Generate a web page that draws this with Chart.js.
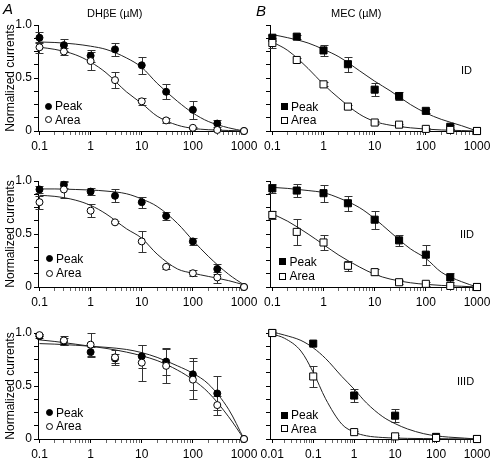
<!DOCTYPE html>
<html lang="en">
<head>
<meta charset="UTF-8">
<title>DHβE and MEC inhibition of ID, IID and IIID currents</title>
<script src="https://cdn.jsdelivr.net/npm/chart.js"></script>
<style>
  body { margin: 0; background: #fff; color: #000; font-family: 'Liberation Sans', Arial, sans-serif; }
  #fig { position: relative; width: 492px; height: 459px; overflow: hidden; background: #fff; }
  #fig canvas { position: absolute; }
  .txt { position: absolute; white-space: nowrap; line-height: 14px; }
  .panel { font-size: 15px; font-style: italic; }
  .drug { font-size: 11px; }
  .cell { font-size: 11px; }
  .leg { font-size: 12px; }
  .mk { position: absolute; box-sizing: border-box; width: 7px; height: 7px; border: 1px solid #000; }
</style>
</head>
<body>
<div id="fig">
  <canvas id="dhbeId" width="262" height="144" style="left:0;top:13px"></canvas>
  <canvas id="mecId" width="242" height="144" style="left:250px;top:13px"></canvas>
  <canvas id="dhbeIid" width="262" height="144" style="left:0;top:169px"></canvas>
  <canvas id="mecIid" width="242" height="144" style="left:250px;top:169px"></canvas>
  <canvas id="dhbeIiid" width="262" height="144" style="left:0;top:321px"></canvas>
  <canvas id="mecIiid" width="242" height="144" style="left:250px;top:321px"></canvas>

  <div class="txt panel" style="left:3px;top:2px">A</div>
  <div class="txt panel" style="left:256px;top:4px">B</div>
  <div class="txt drug" style="left:87px;top:6px">DHβE (µM)</div>
  <div class="txt drug" style="left:331px;top:6px">MEC (µM)</div>
  <div class="txt cell" style="left:461px;top:63px">ID</div>
  <div class="txt cell" style="left:460px;top:227px">IID</div>
  <div class="txt cell" style="left:457px;top:374px">IIID</div>
</div>

<script>
// concentrations in µM
const conc = [0.1, 0.3, 1, 3, 10, 30, 100, 300, 1000]
const concMecIiid = [0.01, 0.1, 1, 10, 100, 1000]
const fitConc = [0.1, 0.2, 0.5, 1, 2, 5, 10, 20, 50, 100, 200, 500, 1000]
const fitConcMecIiid = [0.01, 0.02, 0.05, 0.1, 0.2, 0.5, 1, 2, 5, 10, 20, 50, 100, 200, 500, 1000]

// axis labels
const xTickValues = [0.1, 1, 10, 100, 1000]
const xTickLabels = ['0.1', '1', '10', '100', '1000']
const xTickValuesMecIiid = [0.01, 0.1, 1, 10, 100, 1000]
const xTickLabelsMecIiid = ['0.01', '0.1', '1', '10', '100', '1000']
const yTickValues = [0, 0.5, 1]
const yTickLabels = ['0', '0.5', '1.0']

// DHbE, ID
const dhbeIdPeak = [0.88, 0.81, 0.71, 0.77, 0.62, 0.37, 0.20, 0.07, 0]
const dhbeIdPeakErr = [0.05, 0.055, 0.055, 0.06, 0.08, 0.07, 0.085, 0.035, 0]
const dhbeIdArea = [0.79, 0.75, 0.66, 0.48, 0.28, 0.10, 0.03, 0.01, 0]
const dhbeIdAreaErr = [0.05, 0.03, 0.085, 0.075, 0.03, 0.02, 0.01, 0.01, 0]
const dhbeIdPeakFit = [0.84, 0.835, 0.82, 0.80, 0.77, 0.69, 0.60, 0.45, 0.28, 0.17, 0.09, 0.03, 0]
const dhbeIdAreaFit = [0.79, 0.77, 0.72, 0.65, 0.55, 0.37, 0.26, 0.14, 0.055, 0.025, 0.012, 0.005, 0]

// MEC, ID
const mecIdPeak = [0.88, 0.89, 0.76, 0.63, 0.39, 0.33, 0.19, 0.04, 0]
const mecIdPeakErr = [0.03, 0.02, 0.055, 0.07, 0.06, 0.04, 0.02, 0.02, 0]
const mecIdArea = [0.83, 0.67, 0.44, 0.23, 0.08, 0.06, 0.02, 0.01, 0]
const mecIdAreaErr = [0.05, 0.02, 0.02, 0.02, 0.01, 0.01, 0.01, 0.01, 0]
const mecIdPeakFit = [0.91, 0.88, 0.83, 0.77, 0.70, 0.57, 0.47, 0.38, 0.25, 0.17, 0.11, 0.05, 0]
const mecIdAreaFit = [0.84, 0.76, 0.59, 0.44, 0.31, 0.16, 0.09, 0.055, 0.03, 0.018, 0.01, 0.004, 0]

// DHbE, IID
const dhbeIidPeak = [0.92, 0.965, 0.90, 0.86, 0.80, 0.67, 0.43, 0.17, 0]
const dhbeIidPeakErr = [0.03, 0.03, 0.03, 0.06, 0.05, 0.04, 0.03, 0.05, 0]
const dhbeIidArea = [0.80, 0.92, 0.72, 0.61, 0.43, 0.19, 0.13, 0.09, 0]
const dhbeIidAreaErr = [0.06, 0.08, 0.06, 0.01, 0.10, 0.02, 0.03, 0.05, 0]
const dhbeIidPeakFit = [0.925, 0.925, 0.92, 0.915, 0.905, 0.88, 0.83, 0.76, 0.60, 0.44, 0.29, 0.12, 0.02]
const dhbeIidAreaFit = [0.865, 0.855, 0.82, 0.77, 0.69, 0.55, 0.46, 0.31, 0.17, 0.13, 0.10, 0.06, 0.02]

// MEC, IID
const mecIidPeak = [0.93, 0.91, 0.885, 0.79, 0.635, 0.44, 0.305, 0.09, 0]
const mecIidPeakErr = [0.04, 0.065, 0.08, 0.07, 0.085, 0.05, 0.095, 0.045, 0]
const mecIidArea = [0.68, 0.52, 0.42, 0.20, 0.14, 0.045, 0.03, 0.01, 0]
const mecIidAreaErr = [0.04, 0.12, 0.075, 0.05, 0.03, 0.02, 0.02, 0.01, 0]
const mecIidPeakFit = [0.94, 0.93, 0.91, 0.89, 0.84, 0.75, 0.645, 0.52, 0.36, 0.27, 0.14, 0.05, 0]
const mecIidAreaFit = [0.69, 0.62, 0.50, 0.40, 0.30, 0.19, 0.12, 0.075, 0.04, 0.025, 0.015, 0.007, 0]

// DHbE, IIID
const dhbeIiidPeak = [0.97, 0.92, 0.82, 0.76, 0.78, 0.73, 0.61, 0.43, 0]
const dhbeIiidPeakErr = [0.02, 0.03, 0.05, 0.04, 0.11, 0.13, 0.15, 0.16, 0]
const dhbeIiidArea = [0.98, 0.93, 0.89, 0.77, 0.72, 0.69, 0.56, 0.32, 0]
const dhbeIiidAreaErr = [0.01, 0.04, 0.11, 0.07, 0.17, 0.16, 0.18, 0.09, 0]
const dhbeIiidPeakFit = [0.90, 0.895, 0.885, 0.875, 0.865, 0.845, 0.815, 0.77, 0.69, 0.62, 0.52, 0.28, 0]
const dhbeIiidAreaFit = [0.935, 0.92, 0.895, 0.875, 0.855, 0.82, 0.785, 0.74, 0.65, 0.56, 0.44, 0.21, 0]

// MEC, IIID
const mecIiidPeak = [1.0, 0.90, 0.41, 0.22, 0.02, 0]
const mecIiidPeakErr = [0, 0, 0.06, 0.06, 0.01, 0]
const mecIiidArea = [1.0, 0.59, 0.065, 0.025, 0.01, 0]
const mecIiidAreaErr = [0, 0.095, 0.01, 0.01, 0, 0]
const mecIiidPeakFit = [1.01, 0.98, 0.93, 0.86, 0.76, 0.59, 0.47, 0.34, 0.21, 0.145, 0.095, 0.05, 0.03, 0.018, 0.008, 0]
const mecIiidAreaFit = [0.99, 0.95, 0.83, 0.63, 0.38, 0.14, 0.065, 0.03, 0.014, 0.009, 0.006, 0.004, 0.003, 0.002, 0.001, 0]

Chart.defaults.font.family = "'Liberation Sans', Arial, sans-serif"
Chart.defaults.color = '#000'

// vertical error bars, drawn under the markers
const errorBars = {
    id: 'errorBars',
    beforeDatasetsDraw(chart) {
        let c = chart.ctx, xs = chart.scales.x, ys = chart.scales.y
        c.save()
        c.strokeStyle = '#333'
        c.lineWidth = 1
        chart.data.datasets.forEach(ds => {
            if (!ds.errors) return
            ds.data.forEach((pt, i) => {
                let e = ds.errors[i]
                if (!e) return
                let px = Math.round(xs.getPixelForValue(pt.x)) + 0.5
                let top = Math.round(ys.getPixelForValue(pt.y + e)) + 0.5
                let bot = Math.round(ys.getPixelForValue(pt.y - e)) + 0.5
                c.beginPath()
                c.moveTo(px, top); c.lineTo(px, bot)
                c.moveTo(px - 4, top); c.lineTo(px + 4, top)
                c.moveTo(px - 4, bot); c.lineTo(px + 4, bot)
                c.stroke()
            })
        })
        c.restore()
    }
}

function pts(xs, ys) {
    return xs.map((x, i) => ({x: x, y: ys[i]}))
}

function sameVal(a, b) {
    return Math.abs(a - b) < 1e-9 * Math.max(1, Math.abs(b))
}

// decade + minor tick positions for a log axis
function logTicks(decades) {
    let out = []
    for (let d = 0; d < decades.length - 1; d++) {
        for (let k = 1; k <= 9; k++) out.push({value: decades[d] * k, major: k == 1})
    }
    out.push({value: decades[decades.length - 1], major: true})
    return out
}

function makePanel(id, p) {
    let square = p.shape == 'rect'
    let r = square ? 5 : 3.5
    let fitStyle = {showLine: true, borderColor: '#222', borderWidth: 1, pointRadius: 0, pointHoverRadius: 0,
                    cubicInterpolationMode: 'monotone', clip: false}
    return new Chart(document.getElementById(id), {
        type: 'scatter',
        data: {
            datasets: [
                Object.assign({label: 'Peak fit', data: pts(p.fitX, p.peakFit), order: 4}, fitStyle),
                Object.assign({label: 'Area fit', data: pts(p.fitX, p.areaFit), order: 3}, fitStyle),
                {label: 'Peak', data: pts(p.x, p.peak), errors: p.peakErr, pointStyle: p.shape, pointRadius: r,
                 backgroundColor: '#000', borderColor: '#000', borderWidth: 1, order: 2, clip: false},
                {label: 'Area', data: pts(p.x, p.area), errors: p.areaErr, pointStyle: p.shape, pointRadius: r,
                 backgroundColor: '#fff', borderColor: '#000', borderWidth: 1, order: 1, clip: false}
            ]
        },
        options: {
            responsive: false,
            animation: false,
            events: [],
            layout: {padding: {left: 0, right: p.padRight, top: 12, bottom: 0}},
            plugins: {legend: {display: false}, tooltip: {enabled: false}},
            scales: {
                x: {
                    type: 'logarithmic',
                    min: p.xMin,
                    max: 1000,
                    afterBuildTicks: s => { s.ticks = logTicks(p.xTicks) },
                    afterFit: s => { s.height = 26; s.paddingLeft = 0; s.paddingRight = 0 },
                    grid: {drawOnChartArea: false, tickLength: 4, color: '#000',
                           tickWidth: c => (c.tick && c.tick.major) ? 1 : 0.6},
                    border: {color: '#000', width: 1},
                    ticks: {
                        autoSkip: false, maxRotation: 0, padding: 4, font: {size: 12},
                        callback: v => {
                            let i = p.xTicks.findIndex(t => sameVal(v, t))
                            return i < 0 ? '' : p.xLabels[i]
                        }
                    }
                },
                y: {
                    min: 0,
                    max: 1,
                    afterFit: s => { s.width = p.yWidth; s.paddingTop = 0; s.paddingBottom = 0 },
                    grid: {drawOnChartArea: false, tickLength: 4, color: '#000', tickWidth: 1},
                    border: {color: '#000', width: 1},
                    ticks: {
                        stepSize: 0.125, autoSkip: false, padding: 2, font: {size: 12},
                        callback: v => {
                            if (!p.yLabels) return ''
                            let i = yTickValues.findIndex(t => Math.abs(v - t) < 1e-6)
                            return i < 0 ? '' : yTickLabels[i]
                        }
                    },
                    title: {display: !!p.yLabels, text: 'Normalized currents', font: {size: 12},
                            padding: {top: 3, bottom: 0}}
                }
            }
        },
        plugins: [errorBars]
    })
}

const colA = {xMin: 0.0935, xTicks: xTickValues, xLabels: xTickLabels, yWidth: 38, padRight: 18, yLabels: true, shape: 'circle'}
const colB = {xMin: 0.09, xTicks: xTickValues, xLabels: xTickLabels, yWidth: 20, padRight: 15, yLabels: false, shape: 'rect'}

makePanel('dhbeId', Object.assign({x: conc, fitX: fitConc, peak: dhbeIdPeak, peakErr: dhbeIdPeakErr,
    area: dhbeIdArea, areaErr: dhbeIdAreaErr, peakFit: dhbeIdPeakFit, areaFit: dhbeIdAreaFit}, colA))
makePanel('mecId', Object.assign({x: conc, fitX: fitConc, peak: mecIdPeak, peakErr: mecIdPeakErr,
    area: mecIdArea, areaErr: mecIdAreaErr, peakFit: mecIdPeakFit, areaFit: mecIdAreaFit}, colB))
makePanel('dhbeIid', Object.assign({x: conc, fitX: fitConc, peak: dhbeIidPeak, peakErr: dhbeIidPeakErr,
    area: dhbeIidArea, areaErr: dhbeIidAreaErr, peakFit: dhbeIidPeakFit, areaFit: dhbeIidAreaFit}, colA))
makePanel('mecIid', Object.assign({x: conc, fitX: fitConc, peak: mecIidPeak, peakErr: mecIidPeakErr,
    area: mecIidArea, areaErr: mecIidAreaErr, peakFit: mecIidPeakFit, areaFit: mecIidAreaFit}, colB))
makePanel('dhbeIiid', Object.assign({x: conc, fitX: fitConc, peak: dhbeIiidPeak, peakErr: dhbeIiidPeakErr,
    area: dhbeIiidArea, areaErr: dhbeIiidAreaErr, peakFit: dhbeIiidPeakFit, areaFit: dhbeIiidAreaFit}, colA))
makePanel('mecIiid', Object.assign({}, colB, {xMin: 0.0088, xTicks: xTickValuesMecIiid, xLabels: xTickLabelsMecIiid,
    x: concMecIiid, fitX: fitConcMecIiid, peak: mecIiidPeak, peakErr: mecIiidPeakErr,
    area: mecIiidArea, areaErr: mecIiidAreaErr, peakFit: mecIiidPeakFit, areaFit: mecIiidAreaFit}))

// little legends inside each panel
function legendItem(cx, cy, shape, filled, text) {
    let fig = document.getElementById('fig')
    let m = document.createElement('div')
    m.className = 'mk'
    m.style.left = (cx - 3.5) + 'px'
    m.style.top = (cy - 3.5) + 'px'
    m.style.background = filled ? '#000' : '#fff'
    if (shape == 'circle') m.style.borderRadius = '50%'
    fig.appendChild(m)
    let t = document.createElement('div')
    t.className = 'txt leg'
    t.style.left = (cx + 7) + 'px'
    t.style.top = (cy - 7) + 'px'
    t.textContent = text
    fig.appendChild(t)
}

legendItem(48, 106, 'circle', true, 'Peak')
legendItem(48, 119.5, 'circle', false, 'Area')
legendItem(284, 106.5, 'rect', true, 'Peak')
legendItem(284, 120, 'rect', false, 'Area')
legendItem(49, 258.5, 'circle', true, 'Peak')
legendItem(49, 273, 'circle', false, 'Area')
legendItem(282.5, 261.5, 'rect', true, 'Peak')
legendItem(282.5, 276, 'rect', false, 'Area')
legendItem(49, 412.5, 'circle', true, 'Peak')
legendItem(49, 426, 'circle', false, 'Area')
legendItem(284, 415, 'rect', true, 'Peak')
legendItem(284, 428.5, 'rect', false, 'Area')
</script>
</body>
</html>
